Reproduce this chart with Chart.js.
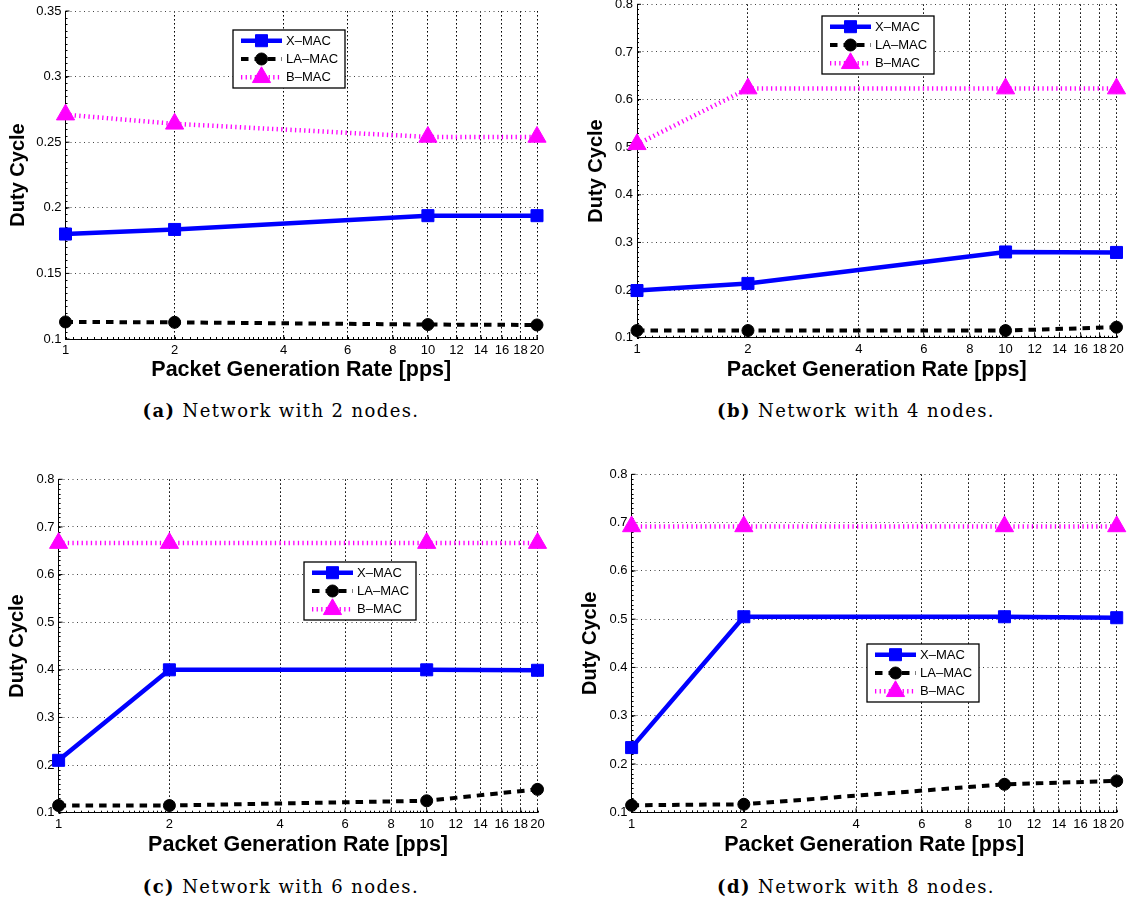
<!DOCTYPE html>
<html>
<head>
<meta charset="utf-8">
<script src="https://cdn.jsdelivr.net/npm/chart.js@4.4.1/dist/chart.umd.min.js"></script>
<style>
  body { margin: 0; background: #fff; }
  #page { position: relative; width: 1130px; height: 904px; overflow: hidden; background: #fff; }
  #page canvas { position: absolute; }
  .cap { position: absolute; width: 420px; text-align: center; font: 18px "DejaVu Serif", serif; line-height: 20px; letter-spacing: 1.4px; white-space: nowrap; color: #000; }
</style>
</head>
<body>
<div id="page">
  <canvas id="c2"></canvas>
  <canvas id="c4"></canvas>
  <canvas id="c6"></canvas>
  <canvas id="c8"></canvas>
  <div class="cap" style="left:71px;top:401px"><b>(a)</b> Network with 2 nodes.</div>
  <div class="cap" style="left:646px;top:401px"><b>(b)</b> Network with 4 nodes.</div>
  <div class="cap" style="left:71px;top:877px"><b>(c)</b> Network with 6 nodes.</div>
  <div class="cap" style="left:646px;top:877px"><b>(d)</b> Network with 8 nodes.</div>
</div>
<script>
// x values (packet generation rate, pps)
const rates = [1, 2, 10, 20];
const xTicks = [1, 2, 4, 6, 8, 10, 12, 14, 16, 18, 20];
const yTicks2 = [0.1, 0.15, 0.2, 0.25, 0.3, 0.35];
const yTicksN = [0.1, 0.2, 0.3, 0.4, 0.5, 0.6, 0.7, 0.8];
const seriesNames = ['X–MAC', 'LA–MAC', 'B–MAC'];

// 2 nodes
const xmac2 = [0.180, 0.1835, 0.194, 0.194];
const lamac2 = [0.113, 0.1127, 0.111, 0.1107];
const bmac2 = [0.271, 0.264, 0.254, 0.254];
// 4 nodes
const xmac4 = [0.199, 0.214, 0.280, 0.279];
const lamac4 = [0.115, 0.115, 0.115, 0.122];
const bmac4 = [0.506, 0.623, 0.623, 0.623];
// 6 nodes
const xmac6 = [0.210, 0.400, 0.400, 0.399];
const lamac6 = [0.115, 0.115, 0.125, 0.149];
const bmac6 = [0.666, 0.666, 0.666, 0.666];
// 8 nodes
const xmac8 = [0.234, 0.505, 0.505, 0.503];
const lamac8 = [0.1145, 0.1166, 0.158, 0.165];
const bmac8 = [0.692, 0.692, 0.692, 0.692];

Chart.defaults.font.family = '"Liberation Sans", Arial, sans-serif';
Chart.defaults.color = '#000';

// page geometry of each panel (canvas box, plot area, titles, legend box)
const geo = {
  c2: {cx: 0, cy: -20, w: 565, h: 410, left: 65.5, right: 537, top: 11, bottom: 339, ytx: 18, xty: 370, leg: [233, 30]},
  c4: {cx: 565, cy: -20, w: 565, h: 410, left: 637, right: 1116.5, top: 4.3, bottom: 337.7, ytx: 596, xty: 370, leg: [822, 16]},
  c6: {cx: 0, cy: 440, w: 565, h: 430, left: 58.6, right: 537.5, top: 479.3, bottom: 812.7, ytx: 17, xty: 845, leg: [304, 562]},
  c8: {cx: 565, cy: 440, w: 565, h: 430, left: 631.6, right: 1116.7, top: 474.3, bottom: 812.3, ytx: 590, xty: 845, leg: [867, 644]}
};

// inward major + minor ticks on left and bottom axes
const axisTicks = {
  id: 'axisTicks',
  beforeDatasetsDraw(chart) {
    const {ctx, chartArea: ca, scales: {x, y}} = chart;
    ctx.save();
    ctx.strokeStyle = '#000';
    ctx.lineWidth = 1;
    ctx.beginPath();
    y.ticks.forEach(t => {
      const py = y.getPixelForValue(t.value);
      ctx.moveTo(ca.left, py); ctx.lineTo(ca.left + 4, py);
    });
    x.ticks.forEach(t => {
      const px = x.getPixelForValue(t.value);
      ctx.moveTo(px, ca.bottom); ctx.lineTo(px, ca.bottom - 4);
    });
    const step = (y.ticks[1].value - y.ticks[0].value) / 10;
    for (let v = y.min; v <= y.max + 1e-9; v += step) {
      const py = Math.round(y.getPixelForValue(v)) + 0.5;
      ctx.moveTo(ca.left, py); ctx.lineTo(ca.left + 2, py);
    }
    const minor = [];
    for (let v = 1; v < 2; v += 0.05) minor.push(v);
    for (let v = 2; v < 4; v += 0.1) minor.push(v);
    for (let v = 4; v < 10; v += 0.2) minor.push(v);
    for (let v = 10; v <= 20; v += 0.5) minor.push(v);
    minor.forEach(v => {
      const px = Math.round(x.getPixelForValue(v)) + 0.5;
      ctx.moveTo(px, ca.bottom); ctx.lineTo(px, ca.bottom - 2);
    });
    ctx.stroke();
    ctx.restore();
  }
};

// boxed legend placed inside the plot
const boxLegend = {
  id: 'boxLegend',
  afterDatasetsDraw(chart, args, opts) {
    const ctx = chart.ctx;
    const x = opts.x, y = opts.y, w = 112, h = 58;
    ctx.save();
    ctx.fillStyle = '#fff';
    ctx.fillRect(x, y, w, h);
    ctx.strokeStyle = '#000';
    ctx.lineWidth = 1.3;
    ctx.strokeRect(x, y, w, h);
    chart.data.datasets.forEach((ds, i) => {
      const ry = y + 10.7 + i * 18.3;
      ctx.save();
      ctx.setLineDash(ds.borderDash || []);
      ctx.strokeStyle = ds.borderColor;
      ctx.lineWidth = ds.borderWidth;
      ctx.beginPath();
      ctx.moveTo(x + 8, ry); ctx.lineTo(x + 49, ry);
      ctx.stroke();
      ctx.restore();
      ctx.fillStyle = ds.backgroundColor;
      ctx.strokeStyle = ds.borderColor;
      ctx.lineWidth = 1;
      Chart.helpers.drawPoint(ctx, {pointStyle: ds.pointStyle, radius: ds.pointRadius, borderWidth: 1, rotation: 0}, x + 28.5, ry);
      ctx.fillStyle = '#000';
      ctx.font = '13px "Liberation Sans", Arial, sans-serif';
      ctx.textBaseline = 'middle';
      ctx.textAlign = 'left';
      ctx.fillText(ds.label, x + 53, ry + 0.5);
    });
    ctx.restore();
  }
};

function makeChart(id, yTicks, xmac, lamac, bmac) {
  const g = geo[id];
  const cv = document.getElementById(id);
  cv.width = g.w; cv.height = g.h;
  cv.style.left = g.cx + 'px'; cv.style.top = g.cy + 'px';
  const pts = vals => rates.map((r, i) => ({x: r, y: vals[i]}));
  return new Chart(cv, {
    type: 'line',
    data: {
      datasets: [
        {label: seriesNames[0], data: pts(xmac), borderColor: '#0000ff', backgroundColor: '#0000ff',
          borderWidth: 4.5, pointStyle: 'rect', pointRadius: 8.5, pointBorderWidth: 1, clip: false},
        {label: seriesNames[1], data: pts(lamac), borderColor: '#000', backgroundColor: '#000',
          borderWidth: 4, borderDash: [7.5, 6], pointStyle: 'circle', pointRadius: 6, pointBorderWidth: 1, clip: false},
        {label: seriesNames[2], data: pts(bmac), borderColor: '#ff00ff', backgroundColor: '#ff00ff',
          borderWidth: 4.5, borderDash: [1.3, 3.3], pointStyle: 'triangle', pointRadius: 10.5, pointBorderWidth: 1, clip: false}
      ]
    },
    options: {
      responsive: false,
      animation: false,
      devicePixelRatio: 1,
      layout: {padding: {top: g.top - g.cy, right: g.cx + g.w - g.right, left: 0, bottom: 0}},
      plugins: {
        legend: {display: false},
        tooltip: {enabled: false},
        boxLegend: {x: g.leg[0] - g.cx, y: g.leg[1] - g.cy}
      },
      scales: {
        x: {
          type: 'logarithmic', min: 1, max: 20,
          afterBuildTicks: s => { s.ticks = xTicks.map(v => ({value: v})); },
          afterFit: s => { s.height = g.cy + g.h - g.bottom; },
          ticks: {autoSkip: false, maxRotation: 0, minRotation: 0, padding: 4, font: {size: 13}, color: '#000',
            callback: v => String(v)},
          grid: {color: '#000', lineWidth: 1, drawTicks: false},
          border: {color: '#000', width: 1, dash: [1.6, 2.4]},
          title: {display: true, text: 'Packet Generation Rate [pps]', color: '#000',
            font: {size: 21.5, weight: 'bold'}, padding: {top: 0, bottom: g.h - (g.xty - g.cy) - 12.9}}
        },
        y: {
          type: 'linear', min: yTicks[0], max: yTicks[yTicks.length - 1],
          afterBuildTicks: s => { s.ticks = yTicks.map(v => ({value: v})); },
          afterFit: s => { s.width = g.left - g.cx; },
          ticks: {padding: 4, font: {size: 13}, color: '#000', callback: v => String(+v.toFixed(2))},
          grid: {color: '#444', lineWidth: 1, drawTicks: false},
          border: {color: '#000', width: 1, dash: [1, 3.5]},
          title: {display: true, text: 'Duty Cycle', color: '#000',
            font: {size: 20, weight: 'bold'}, padding: {top: g.ytx - g.cx - 12, bottom: 0}}
        }
      }
    },
    plugins: [axisTicks, boxLegend]
  });
}

makeChart('c2', yTicks2, xmac2, lamac2, bmac2);
makeChart('c4', yTicksN, xmac4, lamac4, bmac4);
makeChart('c6', yTicksN, xmac6, lamac6, bmac6);
makeChart('c8', yTicksN, xmac8, lamac8, bmac8);
</script>
</body>
</html>
